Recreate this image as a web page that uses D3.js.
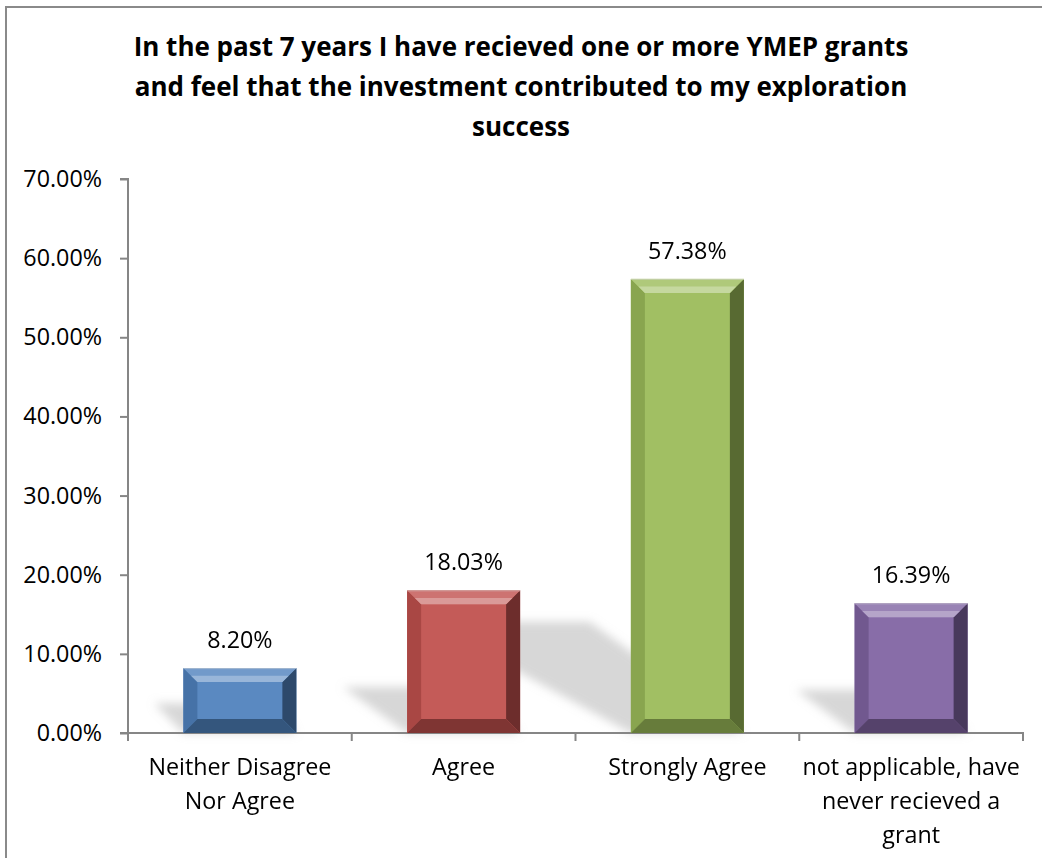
<!DOCTYPE html>
<html>
<head>
<meta charset="utf-8">
<script src="https://cdn.jsdelivr.net/npm/d3@7"></script>
<style>
  html, body { margin: 0; padding: 0; background: #fff; }
  svg { display: block; }
  text { font-family: "Open Sans", Lato, sans-serif; fill: #000; }
</style>
</head>
<body>
<svg id="chart" width="1042" height="858"></svg>
<script>
// ---- data ----
const categories = ["Neither Disagree Nor Agree", "Agree", "Strongly Agree", "not applicable, have never recieved a grant"];
const categoryLabelLines = [
  ["Neither Disagree", "Nor Agree"],
  ["Agree"],
  ["Strongly Agree"],
  ["not applicable, have", "never recieved a", "grant"]
];
const values = [0.0820, 0.1803, 0.5738, 0.1639];
const valueLabels = ["8.20%", "18.03%", "57.38%", "16.39%"];
const barColors = ["#4F81BD", "#C0504D", "#9BBB59", "#8064A2"];
const yTicks = [0, 0.1, 0.2, 0.3, 0.4, 0.5, 0.6, 0.7];
const titleLines = [
  "In the past 7 years I have recieved one or more YMEP grants",
  "and feel that the investment contributed to my exploration",
  "success"
];

// ---- layout ----
const FONT = '"Open Sans", Lato, sans-serif';
const FS = 23.3;
const svg = d3.select("#chart");
const W = 1042, H = 858;
const plot = { left: 128, right: 1023, top: 179, bottom: 733 };
const axisColor = "#868686";

// chart border (outer frame, partially visible)
svg.append("path")
  .attr("d", `M6,${H} L6,7 L${W},7`)
  .attr("fill", "none").attr("stroke", "#8a8a8a").attr("stroke-width", 2);

// title
const title = svg.append("text")
  .attr("text-anchor", "middle")
  .attr("font-weight", "bold")
  .attr("font-size", 26);
titleLines.forEach((t, i) => {
  title.append("tspan").attr("x", 521).attr("y", 56 + i * 40).text(t);
});

const x = d3.scaleBand().domain(categories).range([plot.left, plot.right]).padding(0);
const y = d3.scaleLinear().domain([0, 0.7]).range([plot.bottom, plot.top]);

const defs = svg.append("defs");
defs.append("filter").attr("id", "blur")
  .attr("x", "-50%").attr("y", "-50%").attr("width", "200%").attr("height", "200%")
  .append("feGaussianBlur").attr("stdDeviation", 5);

const barFrac = 0.505;
const bw = x.bandwidth() * barFrac;
const bx = c => x(c) + (x.bandwidth() - bw) / 2;

// shadows (perspective, cast to upper-left)
const shadowG = svg.append("g").attr("filter", "url(#blur)");
categories.forEach((c, i) => {
  const x0 = bx(c), x1 = x0 + bw, y0 = y(0);
  const h = y(0) - y(values[i]);
  const rise = 16 + 0.21 * h, L = 0.45 * h, R = 0.34 * h;
  shadowG.append("path")
    .attr("d", `M${x0},${y0} L${x1},${y0} L${x1 - R},${y0 - rise} L${x0 - L},${y0 - rise} Z`)
    .attr("fill", "#b0b0b0").attr("opacity", 0.5);
});

// y axis
const yAxis = d3.axisLeft(y).tickValues(yTicks)
  .tickFormat(d => (d * 100).toFixed(2) + "%")
  .tickSize(8).tickPadding(18);
const yg = svg.append("g").attr("transform", `translate(${plot.left},0)`).call(yAxis);
yg.select(".domain").attr("stroke", axisColor).attr("stroke-width", 2)
  .attr("d", `M${-8},${plot.top}H0V${plot.bottom}`);
yg.selectAll(".tick line").attr("stroke", axisColor).attr("stroke-width", 2);
yg.selectAll(".tick text").attr("font-size", FS).attr("font-family", FONT).attr("fill", "#000");

// x axis
const xg = svg.append("g");
xg.append("line").attr("x1", plot.left - 8).attr("x2", plot.right + 1)
  .attr("y1", y(0)).attr("y2", y(0)).attr("stroke", axisColor).attr("stroke-width", 2);
const edges = categories.map(c => x(c)).concat([x(categories[categories.length - 1]) + x.bandwidth()]);
xg.selectAll("line.tk").data(edges).join("line").attr("class", "tk")
  .attr("x1", d => d).attr("x2", d => d)
  .attr("y1", y(0)).attr("y2", y(0) + 8)
  .attr("stroke", axisColor).attr("stroke-width", 2);

// category labels
categories.forEach((c, i) => {
  const t = svg.append("text").attr("text-anchor", "middle").attr("font-size", FS);
  categoryLabelLines[i].forEach((ln, j) => {
    t.append("tspan").attr("x", x(c) + x.bandwidth() / 2).attr("y", 775 + j * 34).text(ln);
  });
});

// beveled bars
const bev = 14;
const barsG = svg.append("g");
categories.forEach((c, i) => {
  const base = d3.color(barColors[i]);
  const x0 = bx(c), x1 = x0 + bw, y0 = y(values[i]), y1 = y(0);
  const g = barsG.append("g");
  const face = d3.interpolateRgb(base, "#fff")(0.06);
  const topC = d3.interpolateRgb(base, "#fff")(0.2);
  const hiC = d3.interpolateRgb(base, "#fff")(0.42);
  const leftC = base.darker(0.35);
  const rightC = base.darker(1.6);
  const botC = base.darker(1.15);
  g.append("rect").attr("x", x0).attr("y", y0).attr("width", bw).attr("height", y1 - y0).attr("fill", face);
  g.append("path").attr("d", `M${x0},${y0} L${x0 + bev},${y0 + bev} L${x0 + bev},${y1 - bev} L${x0},${y1} Z`).attr("fill", leftC);
  g.append("path").attr("d", `M${x1},${y0} L${x1 - bev},${y0 + bev} L${x1 - bev},${y1 - bev} L${x1},${y1} Z`).attr("fill", rightC);
  g.append("path").attr("d", `M${x0},${y0} L${x1},${y0} L${x1 - bev},${y0 + bev} L${x0 + bev},${y0 + bev} Z`).attr("fill", topC);
  g.append("path").attr("d", `M${x0 + bev * 0.55},${y0 + bev * 0.55} L${x1 - bev * 0.55},${y0 + bev * 0.55} L${x1 - bev},${y0 + bev} L${x0 + bev},${y0 + bev} Z`).attr("fill", hiC);
  g.append("path").attr("d", `M${x0},${y1} L${x1},${y1} L${x1 - bev},${y1 - bev} L${x0 + bev},${y1 - bev} Z`).attr("fill", botC);
  g.append("line").attr("x1", x0).attr("x2", x1).attr("y1", y0 + 0.5).attr("y2", y0 + 0.5)
    .attr("stroke", d3.interpolateRgb(base, "#ddd")(0.6)).attr("stroke-width", 1);
});

// value labels
svg.append("g").selectAll("text").data(categories).join("text")
  .attr("text-anchor", "middle").attr("font-size", FS)
  .attr("x", c => x(c) + x.bandwidth() / 2)
  .attr("y", (c, i) => y(values[i]) - 20)
  .text((c, i) => valueLabels[i]);
</script>
</body>
</html>
